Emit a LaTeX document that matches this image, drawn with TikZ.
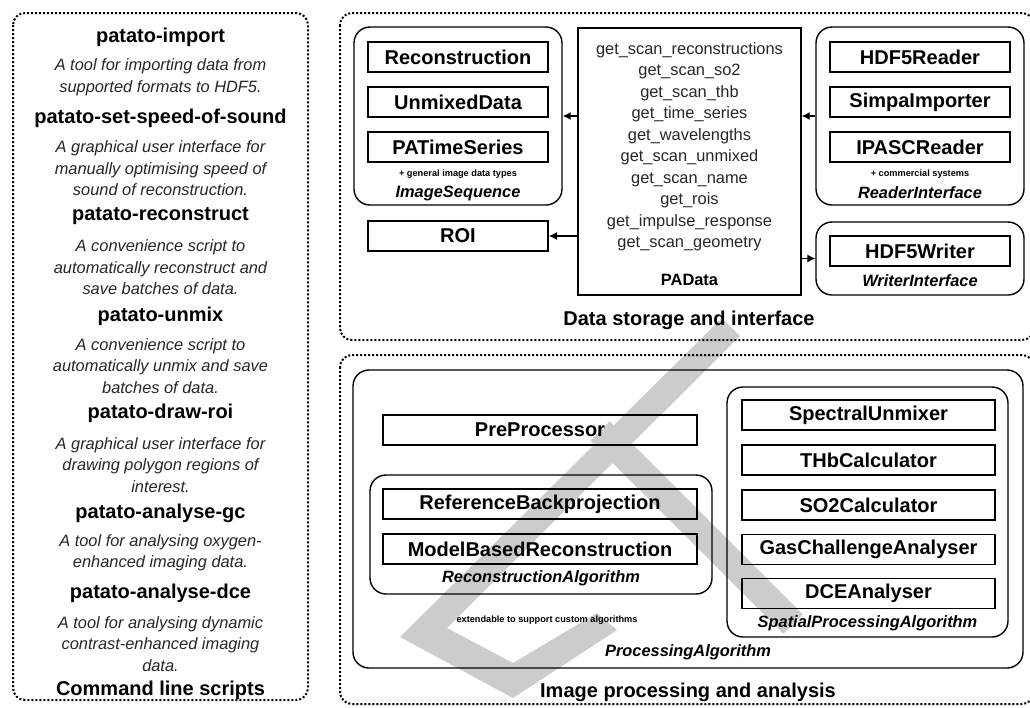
\documentclass[tikz,border=0pt]{standalone}
\usepackage{fontspec}
\setmainfont{Liberation Sans}
\usepackage{tikz}
\usetikzlibrary{arrows.meta,positioning,calc}
\definecolor{markgray}{HTML}{CCCCCC}
\newcommand{\bigfont}{\fontsize{10}{12}\selectfont\bfseries}
\newcommand{\txtfont}{\fontsize{8.2}{10.75}\selectfont}
\newcommand{\tinyfont}{\fontsize{4.6}{5.5}\selectfont\bfseries}
\tikzset{
  panel/.style={draw=black, line width=1pt, dash pattern=on 1pt off 1pt, rounded corners=6pt},
  group/.style={draw=black, line width=0.7pt, rounded corners=8pt, inner sep=0pt},
  cls/.style={draw=black, line width=0.9pt, inner sep=0pt, minimum height=15pt, minimum width=#1, font=\bigfont},
  cls/.default=90pt,
  scripthead/.style={font=\bigfont, inner sep=0pt},
  scriptdesc/.style={font=\txtfont\itshape, align=center, inner sep=0pt, text=black!85},
  grouplabel/.style={font=\txtfont\bfseries\itshape, inner sep=0pt},
  note/.style={font=\tinyfont, inner sep=0pt},
  title/.style={font=\bigfont, inner sep=0pt},
  methods/.style={font=\txtfont, align=center, inner sep=0pt, text=black!85},
  flow/.style={-{Latex[length=4pt,width=4pt]}, line width=0.6pt},
  wmark/.style={fill=markgray, draw=none},
  wstroke/.style={draw=markgray, line width=13.75pt},
}
\def\cX{160.5}
\def\cL{458}
\def\cM{689.5}
\def\cR{920}

\begin{document}
\begin{tikzpicture}[x=0.5pt,y=-0.5pt]
  \useasboundingbox (0,0) rectangle (1030,708);
  % grey mark behind
  \path[wmark] (722,318) -- (740,336) -- (447,628) -- (513,663) -- (597,613)
    -- (617,630) -- (513,698) -- (400,637) -- cycle;
  \draw[wstroke] (600,431) -- (793,624);
  \draw[panel] (13,13) rectangle (308,700);
  \draw[panel] (340,13) rectangle (1034,340);
  \draw[panel] (340,355) rectangle (1034,704);
  % command line scripts
  \node[scripthead] (imp) at (\cX,37) {patato-import};
  \node[scriptdesc] (impd) at (\cX,77.5) {A tool for importing data from\\supported formats to HDF5.};
  \node[scripthead] (sos) at (\cX,118) {patato-set-speed-of-sound};
  \node[scriptdesc] (sosd) at (\cX,168.5) {A graphical user interface for\\manually optimising speed of\\sound of reconstruction.};
  \node[scripthead] (rcn) at (\cX,216) {patato-reconstruct};
  \node[scriptdesc] (rcnd) at (\cX,267.5) {A convenience script to\\automatically reconstruct and\\save batches of data.};
  \node[scripthead] (unx) at (\cX,316) {patato-unmix};
  \node[scriptdesc] (unxd) at (\cX,366) {A convenience script to\\automatically unmix and save\\batches of data.};
  \node[scripthead] (roid) at (\cX,413) {patato-draw-roi};
  \node[scriptdesc] (roidd) at (\cX,465) {A graphical user interface for\\drawing polygon regions of\\interest.};
  \node[scripthead] (agc) at (\cX,513) {patato-analyse-gc};
  \node[scriptdesc] (agcd) at (\cX,553) {A tool for analysing oxygen-\\enhanced imaging data.};
  \node[scripthead] (adc) at (\cX,593) {patato-analyse-dce};
  \node[scriptdesc] (adcd) at (\cX,644) {A tool for analysing dynamic\\contrast-enhanced imaging\\data.};
  \node[title] (cmdt) at (\cX,690) {Command line scripts};
  % data storage
  \node[group, minimum width=104pt, minimum height=89pt] (seq) at (\cL,116) {};
  \node[cls] (rec) at (\cL,57) {Reconstruction};
  \node[cls] (unm) at (\cL,102) {UnmixedData};
  \node[cls] (pts) at (\cL,147) {PATimeSeries};
  \node[note] (seqn) at (\cL,174) {+ general image data types};
  \node[grouplabel] (seql) at (\cL,193) {ImageSequence};
  \node[cls] (roi) at (\cL,236) {ROI};
  \node[draw, line width=0.7pt, minimum width=111.5pt, minimum height=133.5pt, inner sep=0pt] (pad) at (\cM,161.5) {};
  \node[methods] (padm) at (\cM,147) {get\_scan\_reconstructions\\get\_scan\_so2\\get\_scan\_thb\\get\_time\_series\\get\_wavelengths\\get\_scan\_unmixed\\get\_scan\_name\\get\_rois\\get\_impulse\_response\\get\_scan\_geometry};
  \node[grouplabel, font=\txtfont\bfseries] (padl) at (\cM,280) {PAData};
  \node[group, minimum width=104pt, minimum height=89pt] (rdr) at (\cR,116) {};
  \node[cls] (h5r) at (\cR,57) {HDF5Reader};
  \node[cls] (sim) at (\cR,102) {SimpaImporter};
  \node[cls] (ipc) at (\cR,147) {IPASCReader};
  \node[note] (rdrn) at (\cR,174) {+ commercial systems};
  \node[grouplabel] (rdrl) at (\cR,193) {ReaderInterface};
  \node[group, minimum width=104pt, minimum height=36.5pt] (wrt) at (\cR,258.5) {};
  \node[cls] (h5w) at (\cR,251) {HDF5Writer};
  \node[grouplabel] (wrtl) at (\cR,281) {WriterInterface};
  \node[title] (dst) at (689,320) {Data storage and interface};
  \draw[flow] (pad.west |- seq.east) -- (seq.east);
  \draw[flow] (pad.west |- roi.east) -- (roi.east);
  \draw[flow] (rdr.west) -- (rdr.west -| pad.east);
  \draw[flow] (pad.east |- wrt.west) -- (wrt.west);
  % image processing
  \node[group, minimum width=335pt, minimum height=149pt] (proc) at (688,519) {};
  \node[cls=157pt] (pre) at (540,430) {PreProcessor};
  \node[group, minimum width=171pt, minimum height=59.5pt] (ralg) at (541,534.5) {};
  \node[cls=157pt] (rbp) at (540,504) {ReferenceBackprojection};
  \node[cls=157pt] (mbr) at (540,549) {ModelBasedReconstruction};
  \node[grouplabel] (ralgl) at (541,578) {ReconstructionAlgorithm};
  \node[note] (extn) at (547,620) {extendable to support custom algorithms};
  \node[grouplabel] (procl) at (688,652) {ProcessingAlgorithm};
  \node[group, minimum width=140.5pt, minimum height=125pt] (spa) at (867.5,512) {};
  \node[cls=126.5pt] (sun) at (868.5,415) {SpectralUnmixer};
  \node[cls=126.5pt] (thb) at (868.5,460) {THbCalculator};
  \node[cls=126.5pt] (so2) at (868.5,505) {SO2Calculator};
  \node[cls=126.5pt] (gca) at (868.5,549.5) {GasChallengeAnalyser};
  \node[cls=126.5pt] (dce) at (868.5,593.5) {DCEAnalyser};
  \node[grouplabel] (spal) at (867.5,623) {SpatialProcessingAlgorithm};
  \node[title] (ipa) at (688,692) {Image processing and analysis};
\end{tikzpicture}
\end{document}
